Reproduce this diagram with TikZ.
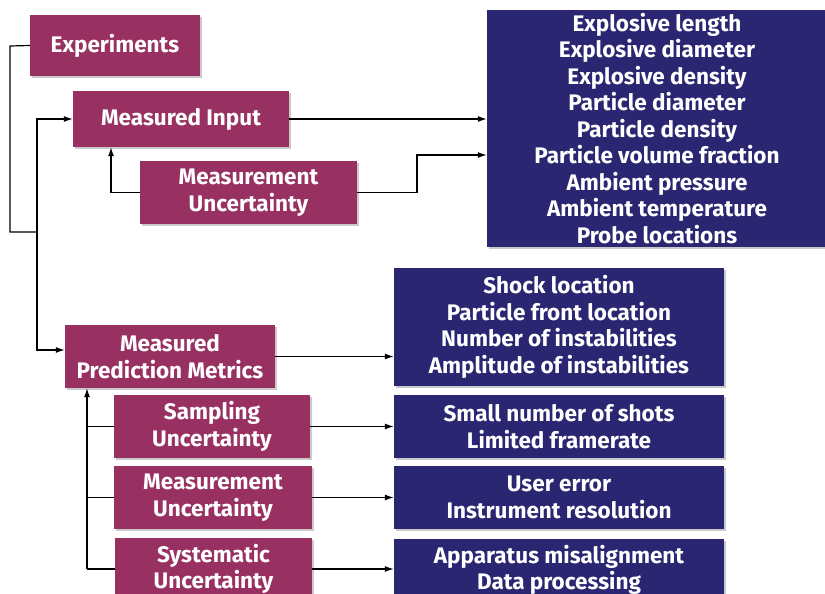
\documentclass[tikz,border=0pt]{standalone}
\usepackage{fontspec}
\setmainfont{Fira Sans}
\usetikzlibrary{arrows.meta,shadows}
\definecolor{mag}{HTML}{983162}
\definecolor{navy}{HTML}{2A2672}
\tikzset{
  base/.style={inner sep=0pt, text=white, align=center,
    font=\fontsize{22.5}{26.5}\selectfont\bfseries,
    drop shadow={shadow xshift=2pt, shadow yshift=-2pt, opacity=0.35, fill=black!60}},
  mbox/.style={base, fill=mag},
  bbox/.style={base, fill=navy},
  conn/.style={line width=1.2pt, black},
  arr/.style={conn, -{Latex[length=9pt,width=6pt]}}
}
\begin{document}
\begin{tikzpicture}[x=1pt,y=-1pt]
\useasboundingbox (0,0) rectangle (825,594);
\begin{scope}
\clip (0,0) rectangle (825,594);
% magenta boxes
\node[mbox, minimum width=170pt, minimum height=61pt] (exp) at (115,45.5) {Experiments};
\node[mbox, minimum width=216pt, minimum height=56pt] (mi) at (181,119) {Measured Input};
\node[mbox, minimum width=217pt, minimum height=63pt] (mu1) at (248.5,192.5) {Measurement\\Uncertainty};
\node[mbox, minimum width=210pt, minimum height=63pt] (mpm) at (170,356.5) {Measured\\Prediction Metrics};
\node[mbox, minimum width=196pt, minimum height=63pt] (samp) at (212,426.5) {Sampling\\Uncertainty};
\node[mbox, minimum width=198pt, minimum height=63pt] (mu2) at (213,497.5) {Measurement\\Uncertainty};
\node[mbox, minimum width=197pt, minimum height=62pt] (sys) at (213.5,569) {Systematic\\Uncertainty};
% blue boxes
\node[bbox, minimum width=340pt, minimum height=237pt] (b1) at (657,128.5) {Explosive length\\Explosive diameter\\Explosive density\\Particle diameter\\Particle density\\Particle volume fraction\\Ambient pressure\\Ambient temperature\\Probe locations};
\node[bbox, minimum width=330pt, minimum height=118pt] (b2) at (559,327) {Shock location\\Particle front location\\Number of instabilities\\Amplitude of instabilities};
\node[bbox, minimum width=330pt, minimum height=63pt] (b3) at (559,426.5) {Small number of shots\\Limited framerate};
\node[bbox, minimum width=330pt, minimum height=63pt] (b4) at (559,497.5) {User error\\Instrument resolution};
\node[bbox, minimum width=330pt, minimum height=62pt] (b5) at (559,570) {Apparatus misalignment\\Data processing};
\end{scope}
% helper coordinates
\coordinate (e1) at (10,46);
\coordinate (tr) at (37,232);
\coordinate (tp) at (37,350);
\coordinate (k1) at (111,0);
\coordinate (m1) at (417,0);
\coordinate (y155) at (0,155);
\coordinate (t2) at (87,569);
% connectors
\draw[conn] (exp.west) -- (e1) |- (tr);
\draw[arr] (tr) |- (mi.west);
\draw[arr] (tr) -- (tp) -- (tp -| mpm.west);
\draw[arr] (mu1.west) -| (k1 |- mi.south);
\draw[arr] (mi.east) -- (mi.east -| b1.west);
\draw[arr] (mu1.east) -| (m1 |- y155) -- (y155 -| b1.west);
\draw[arr] (mpm.east) -- (mpm.east -| b2.west);
\draw[arr] (samp.east) -- (samp.east -| b3.west);
\draw[arr] (mu2.east) -- (mu2.east -| b4.west);
\draw[arr] (sys.east) -- (sys.east -| b5.west);
\draw[arr] (t2) -- (t2 |- mpm.south);
\draw[conn] (samp.west) -- (samp.west -| t2);
\draw[conn] (mu2.west) -- (mu2.west -| t2);
\draw[conn] (sys.west) -- (t2);
\end{tikzpicture}
\end{document}
